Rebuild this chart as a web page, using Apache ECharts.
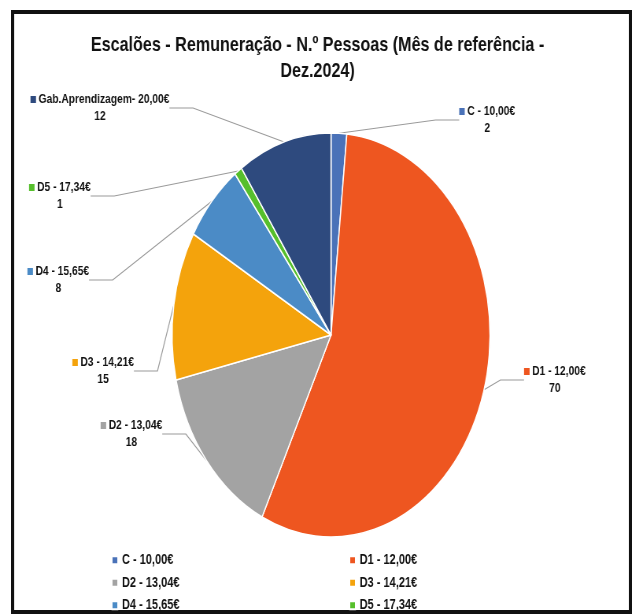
<!DOCTYPE html>
<html>
<head>
<meta charset="utf-8">
<script src="https://cdn.jsdelivr.net/npm/echarts@6/dist/echarts.min.js"></script>
<style>
    html, body { margin: 0; padding: 0; width: 635px; height: 616px; overflow: hidden; background: #fff; }
    /* the scanned original is squeezed sideways, so draw wider and squeeze */
    #chart { width: 807px; height: 616px; transform: scaleX(0.787); transform-origin: 0 0; }
</style>
</head>
<body>
<div id="chart"></div>
<script>
const categories = ['C - 10,00€', 'D1 - 12,00€', 'D2 - 13,04€', 'D3 - 14,21€', 'D4 - 15,65€', 'D5 - 17,34€', 'Gab.Aprendizagem- 20,00€']
const values = [2, 70, 18, 15, 8, 1, 12]
const colors = ['#4a72b8', '#ee5620', '#a3a3a3', '#f4a30c', '#4b8bc6', '#56bf2c', '#2e4a7e']

// label spots (chart space, before the sideways squeeze)
const labelPos = [[619, 120], [705, 380], [167, 434], [131, 371], [74, 280], [76, 196], [127, 108]]

const font = "'Liberation Sans Narrow', 'Arial Narrow', 'Liberation Sans', Arial, sans-serif"

let rich = {
    n: { fontFamily: font, fontWeight: 'bold', fontSize: 13, color: '#111', lineHeight: 17 },
    v: { fontFamily: font, fontWeight: 'bold', fontSize: 13, color: '#111', lineHeight: 17 }
}
colors.forEach((c, i) => {
    rich['s' + i] = { width: 7, height: 7, backgroundColor: c }
})

const chart = echarts.init(document.getElementById('chart'))
chart.setOption({
    animation: false,
    color: colors,
    title: {
        text: 'Escalões - Remuneração - N.º Pessoas (Mês de referência -\nDez.2024)',
        left: 'center',
        top: 27,
        textStyle: { fontFamily: font, fontWeight: 'bold', fontSize: 20.5, color: '#111', lineHeight: 26 }
    },
    legend: {
        left: 141,
        top: 549,
        width: 610,
        padding: 0,
        itemGap: 0,
        itemWidth: 8,
        itemHeight: 8,
        icon: 'rect',
        textStyle: { fontFamily: font, fontWeight: 'bold', fontSize: 14, color: '#111', width: 288, lineHeight: 22.5 }
    },
    graphic: [{
        type: 'rect',
        shape: { x: 16, y: 12, width: 785, height: 600 },
        style: { fill: 'none', stroke: '#111', lineWidth: 4 }
    }],
    series: [{
        type: 'pie',
        center: [420.6, 335],
        radius: 202,
        startAngle: 90,
        itemStyle: { borderColor: '#fff', borderWidth: 1.5 },
        label: {
            show: true,
            formatter: (p) => '{s' + p.dataIndex + '|} {n|' + p.name + '}\n{v|' + p.value + '}',
            align: 'center',
            rich: rich
        },
        labelLine: { show: true, lineStyle: { color: '#9a9a9a', width: 1.2 } },
        labelLayout: (p) => ({
            x: labelPos[p.dataIndex][0],
            y: labelPos[p.dataIndex][1],
            align: 'center',
            verticalAlign: 'middle'
        }),
        emphasis: { disabled: true },
        data: categories.map((c, i) => ({ name: c, value: values[i] }))
    }]
})
</script>
</body>
</html>
